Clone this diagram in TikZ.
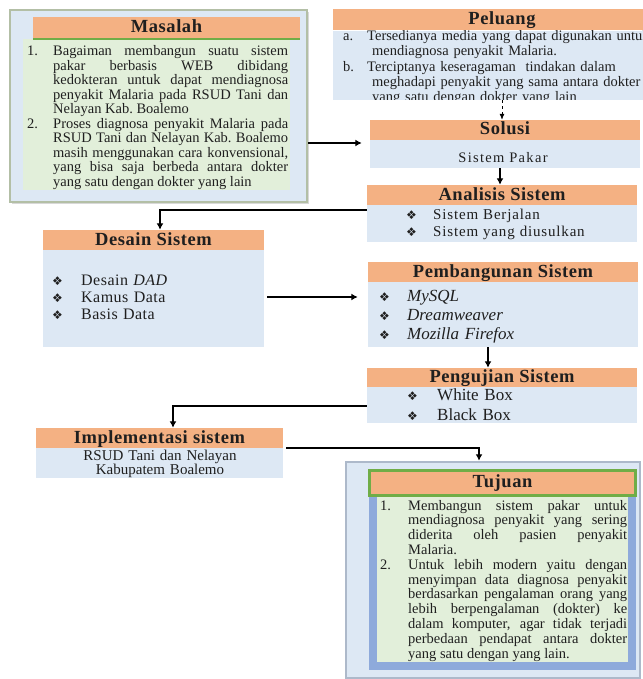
\documentclass[tikz,border=0pt]{standalone}
\usepackage{fontspec}
\setmainfont{Liberation Serif}
\newfontfamily\symfont{DejaVu Sans}
\usetikzlibrary{arrows.meta,shadows}
\definecolor{hdr}{HTML}{F4B183}
\definecolor{lblue}{HTML}{DDE8F4}
\definecolor{lgreen}{HTML}{E2EFDA}
\definecolor{grn}{HTML}{70AD47}
\definecolor{tblue}{HTML}{8EAADB}
\definecolor{tframe}{HTML}{ADB9CA}
\definecolor{mframe}{HTML}{B3BFA6}
\definecolor{ink}{HTML}{1F1F1F}
\newcommand{\bul}[1]{\makebox[#1][l]{\symfont\fontsize{12}{12}\selectfont ❖}}
\newcommand{\hng}[2]{\hangindent=#1\hangafter=1\noindent\makebox[#1][l]{#2}}
\tikzset{
  hdrbox/.style={fill=hdr, draw=none, inner sep=0pt, text height=13pt, text depth=3pt,
    text=ink, font=\fontsize{18.5}{18.5}\selectfont\bfseries\addfontfeatures{LetterSpace=3}},
  bodybox/.style={fill=lblue, draw=none, inner sep=0pt},
  txt/.style={inner sep=0pt, text=ink, anchor=base west},
  arr/.style={line width=1.6pt, -{Latex[length=6.5pt,width=7pt]}},
}
\begin{document}
\begin{tikzpicture}[x=1pt,y=-1pt]
\useasboundingbox[fill=white] (0,0) rectangle (642,679);

% ---------- Masalah ----------
\node[fill=lblue, draw=mframe, line width=1.8pt, inner sep=0pt, minimum width=297pt, minimum height=192pt,
  drop shadow={shadow xshift=2pt, shadow yshift=-2pt, fill=black!30}] (masalah) at (158.5,106) {};
\node[fill=lgreen, inner sep=0pt, minimum width=267pt, minimum height=151pt] (masalahb) at (156.5,114.5) {};
\node[hdrbox, minimum width=267pt, minimum height=22pt] (masalahh) at (166.5,28) {Masalah};
\draw[grn, line width=2pt] (masalahh.south west) -- (masalahh.south east);
\node[txt, text width=261pt, align=justify, font=\fontsize{14.5}{14.5}\selectfont] (mastext) at (27,56) {%
\hng{26pt}{1.}Bagaiman membangun suatu sistem\linebreak pakar berbasis WEB dibidang\linebreak kedokteran untuk dapat mendiagnosa\linebreak penyakit Malaria pada RSUD Tani dan\linebreak Nelayan Kab.\ Boalemo\par
\hng{26pt}{2.}Proses diagnosa penyakit Malaria pada\linebreak RSUD Tani dan Nelayan Kab.\ Boalemo\linebreak masih menggunakan cara konvensional,\linebreak yang bisa saja berbeda antara dokter\linebreak yang satu dengan dokter yang lain\par};

% ---------- Peluang ----------
\node[hdrbox, minimum width=338pt, minimum height=21pt] (peluangh) at (502,20) {Peluang};
\node[bodybox, minimum width=338pt, minimum height=69pt] (peluangb) at (502,65.5) {};
\begin{scope}
\clip (333,30.5) rectangle (642,100);
\node[txt, text width=330pt, align=left, font=\fontsize{14.5}{15.3}\selectfont] (peltext) at (343,40.7) {%
\hangindent=29pt\hangafter=1\noindent\makebox[24pt][l]{a.}Tersedianya media yang dapat digunakan untuk\newline mendiagnosa penyakit Malaria.\par
\hangindent=29pt\hangafter=1\noindent\makebox[24pt][l]{b.}Terciptanya keseragaman\ \ tindakan dalam\newline meghadapi penyakit yang sama antara dokter\newline yang satu dengan dokter yang lain\par};
\end{scope}

% ---------- Solusi ----------
\node[hdrbox, minimum width=270pt, minimum height=20pt] (solusih) at (505,130) {Solusi};
\node[bodybox, minimum width=270pt, minimum height=28pt] (solusib) at (505,154) {};
\node[inner sep=0pt, text=ink, anchor=base, font=\fontsize{14.5}{14.5}\selectfont\addfontfeatures{LetterSpace=9}] (soltext) at (503,163) {Sistem Pakar};

% ---------- Analisis ----------
\node[hdrbox, minimum width=270pt, minimum height=20pt] (analisish) at (502,195) {Analisis Sistem};
\node[bodybox, minimum width=270pt, minimum height=37pt] (analisisb) at (502,223.5) {};
\node[txt, text width=220pt, align=left, font=\fontsize{15}{16.5}\selectfont\addfontfeatures{LetterSpace=5.5}] (anatext) at (406,219.5) {%
\bul{27pt}Sistem Berjalan\\ \bul{27pt}Sistem yang diusulkan};

% ---------- Desain ----------
\node[hdrbox, minimum width=221pt, minimum height=20pt] (desainh) at (153.5,240) {Desain Sistem};
\node[bodybox, minimum width=221pt, minimum height=97pt] (desainb) at (153.5,298.5) {};
\node[txt, text width=200pt, align=left, font=\fontsize{16}{17}\selectfont\addfontfeatures{LetterSpace=3}] (destext) at (52,285) {%
\bul{29pt}Desain \textit{DAD}\\ \bul{29pt}Kamus Data\\ \bul{29pt}Basis Data};

% ---------- Pembangunan ----------
\node[hdrbox, minimum width=270pt, minimum height=20pt] (pembh) at (503,272) {Pembangunan Sistem};
\node[bodybox, minimum width=270pt, minimum height=65pt] (pembb) at (503,314.5) {};
\node[txt, text width=220pt, align=left, font=\fontsize{17}{18.7}\selectfont] (pembtext) at (379,301.7) {%
\bul{28pt}\textit{MySQL}\\ \bul{28pt}\textit{Dreamweaver}\\ \bul{28pt}\textit{Mozilla Firefox}};

% ---------- Pengujian ----------
\node[hdrbox, minimum width=270pt, minimum height=19pt] (pengh) at (502,377.5) {Pengujian Sistem};
\node[bodybox, minimum width=270pt, minimum height=36pt] (pengb) at (502,405) {};
\node[txt, text width=200pt, align=left, font=\fontsize{17}{19.3}\selectfont] (pengtext) at (407,400.7) {%
\bul{30pt}White Box\\ \bul{30pt}Black Box};

% ---------- Implementasi ----------
\node[hdrbox, minimum width=247pt, minimum height=20pt] (implh) at (159.5,438) {Implementasi sistem};
\node[bodybox, minimum width=247pt, minimum height=30pt] (implb) at (159.5,463) {};
\node[inner sep=0pt, text=ink, anchor=base, text width=240pt, align=center, font=\fontsize{15}{14}\selectfont] (impltext) at (160,460) {%
RSUD Tani dan Nelayan\\ Kabupatem Boalemo};

% ---------- Tujuan ----------
\node[fill=lblue, draw=tframe, line width=2.5pt, inner sep=0pt, minimum width=294pt, minimum height=216pt] (tujuan) at (493,570) {};
\node[fill=tblue, inner sep=0pt, minimum width=267pt, minimum height=192pt] (tujuanf) at (502.5,574) {};
\node[fill=lgreen, inner sep=0pt, minimum width=251pt, minimum height=166pt] (tujuanb) at (502.5,579) {};
\node[hdrbox, draw=grn, line width=3pt, minimum width=266pt, minimum height=24.5pt] (tujuanh) at (502.5,482.75) {Tujuan};
\node[txt, text width=247pt, align=justify, font=\fontsize{14.5}{14.8}\selectfont] (tujtext) at (380,510) {%
\hng{28pt}{1.}Membangun sistem pakar untuk\linebreak mendiagnosa penyakit yang sering\linebreak diderita oleh pasien penyakit\linebreak Malaria.\par
\hng{28pt}{2.}Untuk lebih modern yaitu dengan\linebreak menyimpan data diagnosa penyakit\linebreak berdasarkan pengalaman orang yang\linebreak lebih berpengalaman (dokter) ke\linebreak dalam komputer, agar tidak terjadi\linebreak perbedaan pendapat antara dokter\linebreak yang satu dengan yang lain.\par};

% ---------- Connectors ----------
\draw[arr, shorten >=8pt] (masalah.east |- 0,143) -- (solusib.west |- 0,143);
\draw[line width=0.8pt, dashed, -{Latex[length=6pt,width=5pt]}] (peluangb.south) -- (peluangb.south |- solusih.north);
\draw[arr] (solusib.south -| 500,0) -- (analisish.north -| 500,0);
\draw[arr] (analisisb.west |- 0,210) -| (desainh.north -| 160,0);
\draw[arr, shorten <=3pt, shorten >=10pt] (desainb.east |- 0,297) -- (pembb.west |- 0,297);
\draw[arr] (pembb.south -| 488,0) -- (pengh.north -| 488,0);
\draw[arr] (pengb.west |- 0,406) -| (implh.north -| 173,0);
\draw[arr, shorten <=3pt] (implb.east |- 0,448) -| (tujuan.north -| 479,0);
\end{tikzpicture}
\end{document}
